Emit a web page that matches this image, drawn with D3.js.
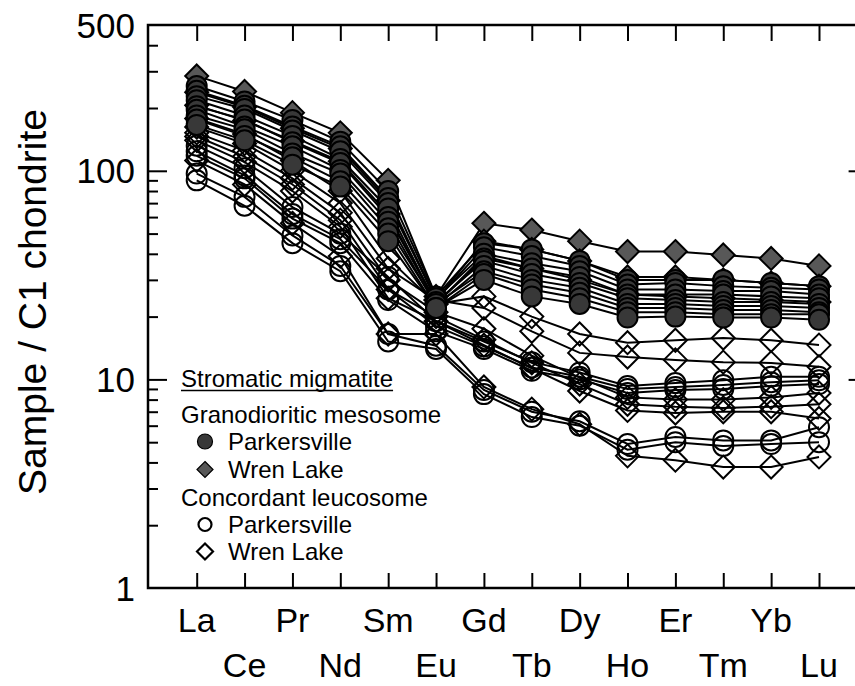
<!DOCTYPE html>
<html>
<head>
<meta charset="utf-8">
<script src="https://cdn.jsdelivr.net/npm/d3@7"></script>
<style>
  html, body { margin: 0; padding: 0; background: #fff; }
  svg { display: block; }
  text { font-family: "Liberation Sans", Arial, sans-serif; fill: #000; }
</style>
</head>
<body>
<svg id="chart" width="855" height="686"></svg>
<script>
// ---------- data ----------
const elements = ["La","Ce","Pr","Nd","Sm","Eu","Gd","Tb","Dy","Ho","Er","Tm","Yb","Lu"];
const yTickValues = [1, 10, 100, 500];
const yTickLabels = ["1", "10", "100", "500"];
const yTitle = "Sample / C1 chondrite";

// Granodioritic mesosome – Parkersville (filled circles)
const mesoParkersville = [
  [255, 215, 175, 138, 80, 25, 45, 42, 37, 30, 30, 30, 29, 28],
  [242, 205, 163, 131, 74, 24, 43, 39, 35, 28.5, 29, 28, 27.5, 27],
  [228, 198, 156, 124, 70, 24.5, 40, 36, 33, 27, 27, 26.5, 26.5, 25.5],
  [218, 184, 147, 114, 66, 23, 38, 34, 31, 25.5, 25.5, 25.5, 25, 24.5],
  [204, 176, 137, 109, 60, 23.5, 37, 32, 29, 24.5, 24, 23.5, 23.5, 23],
  [196, 163, 131, 101, 57, 22.5, 35, 30, 27.5, 23, 23, 22.5, 22.5, 22],
  [184, 158, 121, 97, 53, 23, 33, 28.5, 26, 22, 22, 21.5, 21.5, 21],
  [176, 147, 116, 89, 50, 22, 32, 27, 24.5, 21, 21, 20.5, 20.5, 20.5],
  [166, 140, 107, 84, 46, 22, 30, 25, 23, 19.8, 20, 19.8, 19.8, 19.3]
];
// Granodioritic mesosome – Wren Lake (filled diamonds)
const mesoWrenLake = [
  [285, 240, 190, 152, 90, 25, 56, 52, 46, 41, 41, 39.5, 38, 35],
  [238, 202, 160, 128, 72, 24, 46, 42, 37, 31, 31, 30, 29, 28],
  [206, 174, 139, 111, 62, 23, 39, 34, 30, 25.5, 25, 24.5, 24, 23.5]
];
// Concordant leucosome – Parkersville (open circles)
const leucoParkersville = [
  [132, 103, 67, 50, 31, 19, 15.2, 12.1, 10.8, 9.3, 9.6, 9.9, 10.3, 10.3],
  [124, 95, 62, 47, 27, 18, 14.4, 11.4, 10.3, 9.0, 9.2, 9.4, 9.7, 9.9],
  [118, 92, 59, 45, 24, 17, 14.0, 11.0, 10.0, 8.6, 8.9, 9.0, 9.3, 9.5],
  [97, 75, 49, 35, 16.5, 14.5, 8.9, 7.0, 6.3, 4.9, 5.3, 5.1, 5.1, 5.9],
  [90, 68, 45, 33, 15.2, 14, 8.5, 6.6, 6.0, 4.6, 5.0, 4.8, 4.9, 5.0]
];
// Concordant leucosome – Wren Lake (open diamonds)
const leucoWrenLake = [
  [178, 150, 112, 80, 38, 23, 25, 20, 16.5, 15, 15.4, 15.8, 15.4, 14.6],
  [162, 135, 100, 70, 34, 24, 22, 17, 13.4, 12.8, 12.4, 12.1, 12, 11.5],
  [152, 125, 92, 63, 30, 21, 17.5, 13, 10.2, 8.2, 8.0, 8.0, 8.2, 8.6],
  [146, 117, 86, 58, 27, 20, 15.5, 12, 9.5, 7.6, 7.4, 7.3, 7.4, 7.6],
  [140, 110, 80, 54, 24.5, 19, 14.6, 11.3, 8.8, 7.1, 6.9, 7.0, 7.0, 6.5],
  [112, 86, 56, 39, 16.5, 16.5, 9.2, 7.2, 6.1, 4.3, 4.1, 3.8, 3.8, 4.25]
];

const legendTitle = "Stromatic migmatite";
const legendItems = [
  { label: "Granodioritic mesosome", header: true },
  { label: "Parkersville", shape: "circle", filled: true },
  { label: "Wren Lake", shape: "diamond", filled: true },
  { label: "Concordant leucosome", header: true },
  { label: "Parkersville", shape: "circle", filled: false },
  { label: "Wren Lake", shape: "diamond", filled: false }
];

// ---------- layout ----------
const svg = d3.select("#chart");
const frame = { left: 148, right: 867.6, top: 25, bottom: 588 };

const x = d3.scalePoint().domain(elements).range([196.7, 819]);
const y = d3.scaleLog().domain([1, 500]).range([frame.bottom, frame.top]);

const FILL_CIRCLE = "#383838";
const FILL_DIAMOND = "#585858";

function diamondPath(s) {
  return `M0,${-s}L${s},0L0,${s}L${-s},0Z`;
}

// ---------- data layers ----------
const groups = [
  { data: leucoWrenLake, shape: "diamond", filled: false },
  { data: leucoParkersville, shape: "circle", filled: false },
  { data: mesoWrenLake, shape: "diamond", filled: true },
  { data: mesoParkersville, shape: "circle", filled: true }
];

const line = d3.line().x((d, i) => x(elements[i])).y(d => y(d));
const plot = svg.append("g");

groups.forEach(g => {
  const gg = plot.append("g");
  g.data.forEach(series => {
    gg.append("path")
      .attr("d", line(series))
      .attr("fill", "none")
      .attr("stroke", "#000")
      .attr("stroke-width", 2);
  });
  g.data.forEach(series => {
    series.forEach((v, i) => {
      const cx = x(elements[i]), cy = y(v);
      let m;
      if (g.shape === "circle") {
        m = gg.append("circle").attr("cx", cx).attr("cy", cy).attr("r", 10);
      } else {
        m = gg.append("path").attr("d", diamondPath(11.5))
          .attr("transform", `translate(${cx},${cy})`);
      }
      m.attr("fill", g.filled ? (g.shape === "circle" ? FILL_CIRCLE : FILL_DIAMOND) : "none")
       .attr("stroke", "#000")
       .attr("stroke-width", 2);
    });
  });
});

// ---------- frame & ticks ----------
const allMinor = y.ticks().filter(v => !yTickValues.includes(v));
const majorInner = [10, 100];

const axL = svg.append("g").attr("transform", `translate(${frame.left},0)`);
axL.call(d3.axisLeft(y).tickValues(allMinor).tickSize(-10).tickFormat(""));
axL.append("g").call(d3.axisLeft(y).tickValues(majorInner).tickSize(-19).tickFormat(""));
const axR = svg.append("g").attr("transform", `translate(${frame.right},0)`);
axR.call(d3.axisRight(y).tickValues(allMinor).tickSize(-10).tickFormat(""));
axR.append("g").call(d3.axisRight(y).tickValues(majorInner).tickSize(-19).tickFormat(""));

const axB = svg.append("g").attr("transform", `translate(0,${frame.bottom})`);
axB.call(d3.axisBottom(x).tickSize(-15).tickFormat(""));
const axT = svg.append("g").attr("transform", `translate(0,${frame.top})`);
axT.call(d3.axisTop(x).tickSize(-16).tickFormat(""));

svg.selectAll(".domain").remove();
svg.selectAll(".tick line").attr("stroke", "#000").attr("stroke-width", 2);

svg.append("rect")
  .attr("x", frame.left).attr("y", frame.top)
  .attr("width", frame.right - frame.left)
  .attr("height", frame.bottom - frame.top)
  .attr("fill", "none").attr("stroke", "#000").attr("stroke-width", 2.5);

// y tick labels
svg.append("g").selectAll("text").data(yTickValues).join("text")
  .attr("x", frame.left - 13)
  .attr("y", d => y(d))
  .attr("dy", "0.36em")
  .attr("text-anchor", "end")
  .attr("font-size", 35)
  .text((d, i) => yTickLabels[i]);

// x tick labels (two staggered rows)
svg.append("g").selectAll("text").data(elements).join("text")
  .attr("x", d => x(d))
  .attr("y", (d, i) => i % 2 === 0 ? 632 : 677)
  .attr("text-anchor", "middle")
  .attr("font-size", 34)
  .text(d => d);

// y title
svg.append("text")
  .attr("transform", "translate(46,302) rotate(-90)")
  .attr("text-anchor", "middle")
  .attr("font-size", 39)
  .text(yTitle);

// ---------- legend ----------
const lg = svg.append("g");
const lx = 181;
const tt = lg.append("text").attr("x", lx).attr("y", 387).attr("font-size", 24).text(legendTitle);
const tw = tt.node().getComputedTextLength();
lg.append("line").attr("x1", lx).attr("x2", lx + tw).attr("y1", 390.5).attr("y2", 390.5)
  .attr("stroke", "#000").attr("stroke-width", 1.5);

const rowY = [423, 450, 478, 506, 533, 560];
legendItems.forEach((it, i) => {
  const yy = rowY[i];
  if (it.header) {
    lg.append("text").attr("x", lx).attr("y", yy).attr("font-size", 24).text(it.label);
  } else {
    const cy = yy - 8.5, cx = 205;
    let m;
    if (it.shape === "circle") {
      m = lg.append("circle").attr("cx", cx).attr("cy", cy).attr("r", it.filled ? 7.5 : 6.5);
    } else {
      m = lg.append("path").attr("d", diamondPath(8)).attr("transform", `translate(${cx},${cy})`);
    }
    m.attr("fill", it.filled ? (it.shape === "circle" ? FILL_CIRCLE : FILL_DIAMOND) : "none")
     .attr("stroke", "#000").attr("stroke-width", it.filled ? 1.2 : 2.2);
    lg.append("text").attr("x", 228).attr("y", yy).attr("font-size", 24).text(it.label);
  }
});
</script>
</body>
</html>
